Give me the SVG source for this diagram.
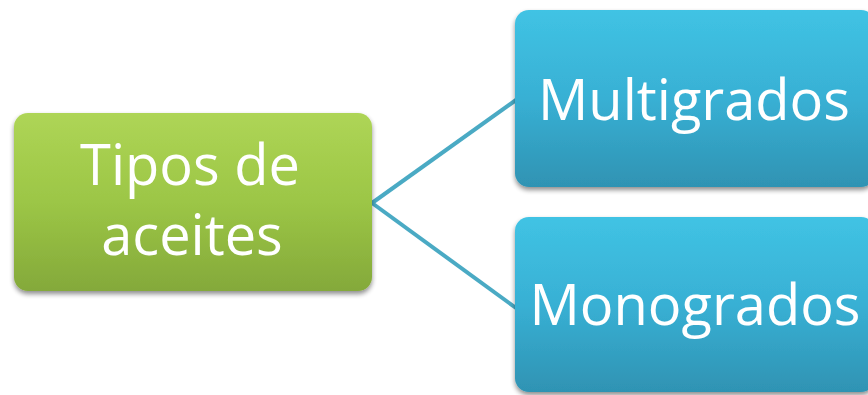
<svg xmlns="http://www.w3.org/2000/svg" width="868" height="395" viewBox="0 0 868 395">
<defs>
<linearGradient id="gGreen" x1="0" y1="0" x2="0" y2="1">
<stop offset="0" stop-color="#aed556"/>
<stop offset="0.5" stop-color="#9cc646"/>
<stop offset="1" stop-color="#84a93a"/>
</linearGradient>
<linearGradient id="gBlue" x1="0" y1="0" x2="0" y2="1">
<stop offset="0" stop-color="#40c3e4"/>
<stop offset="0.5" stop-color="#38b0d4"/>
<stop offset="1" stop-color="#2f93b3"/>
</linearGradient>
<filter id="sh" x="-10%" y="-10%" width="120%" height="130%">
<feGaussianBlur in="SourceAlpha" stdDeviation="2.5"/>
<feOffset dx="0" dy="3" result="b"/>
<feComponentTransfer><feFuncA type="linear" slope="0.45"/></feComponentTransfer>
<feMerge><feMergeNode/><feMergeNode in="SourceGraphic"/></feMerge>
</filter>
</defs>
<style>
.lbl{font-family:"Open Sans","Noto Sans",sans-serif;fill:#ffffff;text-anchor:middle;font-size:56px}
.conn{stroke:#4aaac4;stroke-width:4;fill:none}
</style>
<rect width="868" height="395" fill="#ffffff"/>
<g id="connectors">
<path class="conn" d="M372,203 L516,100"/>
<path class="conn" d="M372,203 L516,308"/>
</g>
<g id="node-tipos">
<rect x="14" y="113" width="358" height="178" rx="14" fill="url(#gGreen)" filter="url(#sh)"/>
<text class="lbl" x="190" y="185">Tipos de</text>
<text class="lbl" x="192" y="255">aceites</text>
</g>
<g id="node-multigrados">
<rect x="515" y="10" width="360" height="177" rx="14" fill="url(#gBlue)" filter="url(#sh)"/>
<text class="lbl" x="694" y="120">Multigrados</text>
</g>
<g id="node-monogrados">
<rect x="515" y="217" width="360" height="175" rx="14" fill="url(#gBlue)" filter="url(#sh)"/>
<text class="lbl" x="695" y="325">Monogrados</text>
</g>
</svg>
